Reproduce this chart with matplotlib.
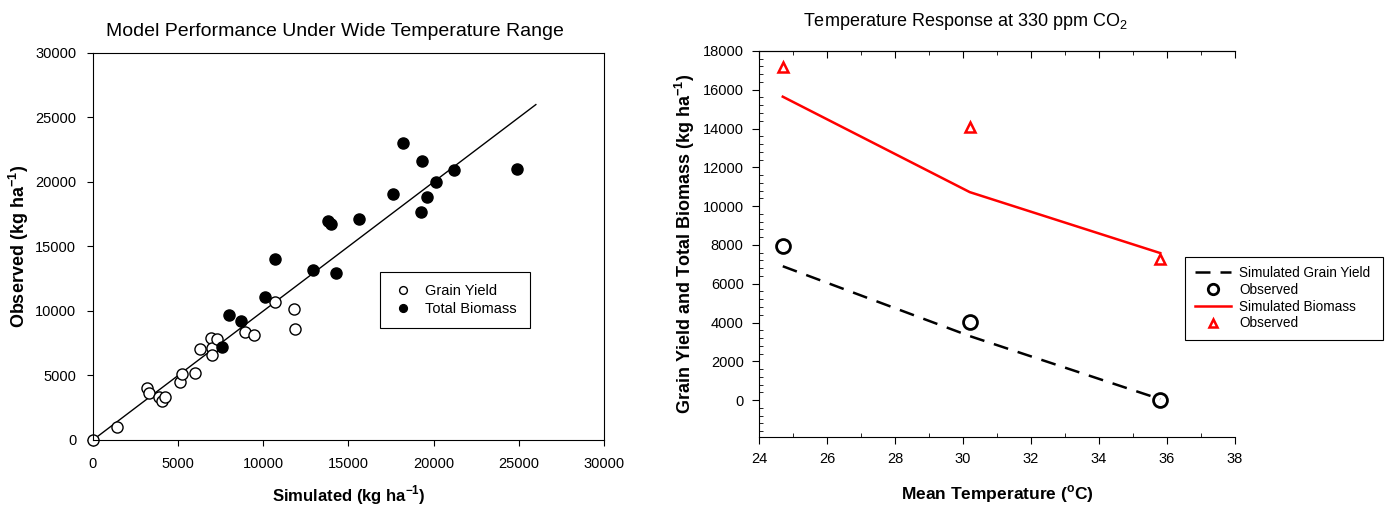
import numpy as np
import matplotlib
matplotlib.use("Agg")
import matplotlib.pyplot as plt
from matplotlib.ticker import MultipleLocator

plt.rcParams['font.family'] = ['Liberation Sans', 'DejaVu Sans']

# left panel: simulated vs observed (kg/ha)
grain_sim = [0, 1400, 3190, 3310, 3880, 4030, 4230, 5110, 5200, 5970, 6280,
             6910, 7000, 7000, 7300, 8900, 9470, 10690, 11800, 11860]
grain_obs = [0, 1030, 4030, 3620, 3360, 3050, 3330, 4470, 5120, 5220, 7050,
             7930, 7160, 6590, 7800, 8400, 8100, 10720, 10130, 8630]
bio_sim = [7590, 7990, 8710, 10120, 10710, 12900, 14270, 13780, 13950, 15630,
           17600, 18220, 19240, 19340, 19590, 20160, 21200, 24900]
bio_obs = [7210, 9660, 9200, 11060, 14050, 13180, 12950, 16980, 16720, 17130,
           19070, 23050, 17650, 21650, 18840, 20000, 20930, 21030]
line_11 = [0, 26000]

# right panel: temperature response
temps = [24.7, 30.2, 35.8]
sim_grain = [6900, 3300, 50]
obs_grain = [7920, 4010, 0]
sim_bio = [15640, 10720, 7580]
obs_bio = [17150, 14060, 7270]

fig = plt.figure(figsize=(13.85, 5.08), dpi=100)

# ---- left panel
ax1 = fig.add_axes([0.0671, 0.1339, 0.369, 0.7618])
ax1.plot(line_11, line_11, color='black', lw=1)
ax1.plot(grain_sim, grain_obs, 'o', mfc='white', mec='black', ms=8, mew=1,
         label='Grain Yield', clip_on=False)
ax1.plot(bio_sim, bio_obs, 'o', mfc='black', mec='black', ms=8, mew=1,
         label='Total Biomass', clip_on=False)
ax1.set_xlim(0, 30000)
ax1.set_ylim(0, 30000)
ax1.xaxis.set_major_locator(MultipleLocator(5000))
ax1.yaxis.set_major_locator(MultipleLocator(5000))
ax1.tick_params(direction='out', length=4, labelsize=10.5, pad=8)
ax1.set_xlabel('Simulated (kg ha$^{\\mathregular{-1}}$)', fontsize=12,
               fontweight='bold', labelpad=9)
ax1.set_ylabel('Observed (kg ha$^{\\mathregular{-1}}$)', fontsize=13,
               fontweight='bold', labelpad=3)
fig.text(0.242, 0.938, 'Model Performance Under Wide Temperature Range',
         ha='center', va='center', fontsize=14)
leg1 = ax1.legend(loc='lower left', bbox_to_anchor=(0.562, 0.289, 0.293, 0.155),
                  mode='expand', fancybox=False, edgecolor='black',
                  framealpha=1, fontsize=10.5, markerscale=0.7,
                  handlelength=1.5, borderpad=0.8, labelspacing=0.3,
                  borderaxespad=0)
leg1.get_frame().set_linewidth(0.8)

# ---- right panel
ax2 = fig.add_axes([0.548, 0.1398, 0.3437, 0.760])
ax2.plot(temps, sim_grain, color='black', lw=1.8, dashes=(6, 4),
         label='Simulated Grain Yield')
ax2.plot(temps, obs_grain, 'o', mfc='none', mec='black', ms=10, mew=2,
         label='Observed')
ax2.plot(temps, sim_bio, color='red', lw=1.8, label='Simulated Biomass')
ax2.plot(temps, obs_bio, '^', mfc='none', mec='red', ms=7, mew=1.8,
         label='Observed')
ax2.set_xlim(24, 38)
ax2.set_ylim(-1900, 18000)
ax2.xaxis.set_major_locator(MultipleLocator(2))
ax2.xaxis.set_minor_locator(MultipleLocator(1))
ax2.yaxis.set_major_locator(MultipleLocator(2000))
ax2.yaxis.set_minor_locator(MultipleLocator(400))
ax2.set_yticks(np.arange(0, 18001, 2000))
ax2.spines['right'].set_visible(False)
ax2.tick_params(which='major', direction='out', length=5, labelsize=10.5, pad=6)
ax2.tick_params(which='minor', direction='in', length=3)

# top ticks point inward
top = ax2.secondary_xaxis('top')
top.xaxis.set_major_locator(MultipleLocator(2))
top.xaxis.set_minor_locator(MultipleLocator(1))
top.tick_params(which='major', direction='in', length=5, labeltop=False)
top.tick_params(which='minor', direction='in', length=3)

ax2.set_xlabel('Mean Temperature ($^{\\mathregular{o}}$C)', fontsize=12.5,
               fontweight='bold', labelpad=12)
ax2.set_ylabel('Grain Yield and Total Biomass (kg ha$^{\\mathregular{-1}}$)',
               fontsize=13, fontweight='bold', labelpad=4)
fig.text(0.697, 0.958, 'Temperature Response at 330 ppm CO$_{\\mathregular{2}}$',
         ha='center', va='center', fontsize=13)
leg2 = fig.legend(*ax2.get_legend_handles_labels(), loc='lower left',
                  bbox_to_anchor=(0.8556, 0.331, 0.143, 0.191), mode='expand',
                  fancybox=False, edgecolor='black', framealpha=1,
                  fontsize=9.8, handlelength=2.7, handletextpad=0.6,
                  borderpad=0.7, labelspacing=0.2, markerscale=0.75,
                  borderaxespad=0)
leg2.get_frame().set_linewidth(0.8)

fig.savefig('out.png', dpi=100)
